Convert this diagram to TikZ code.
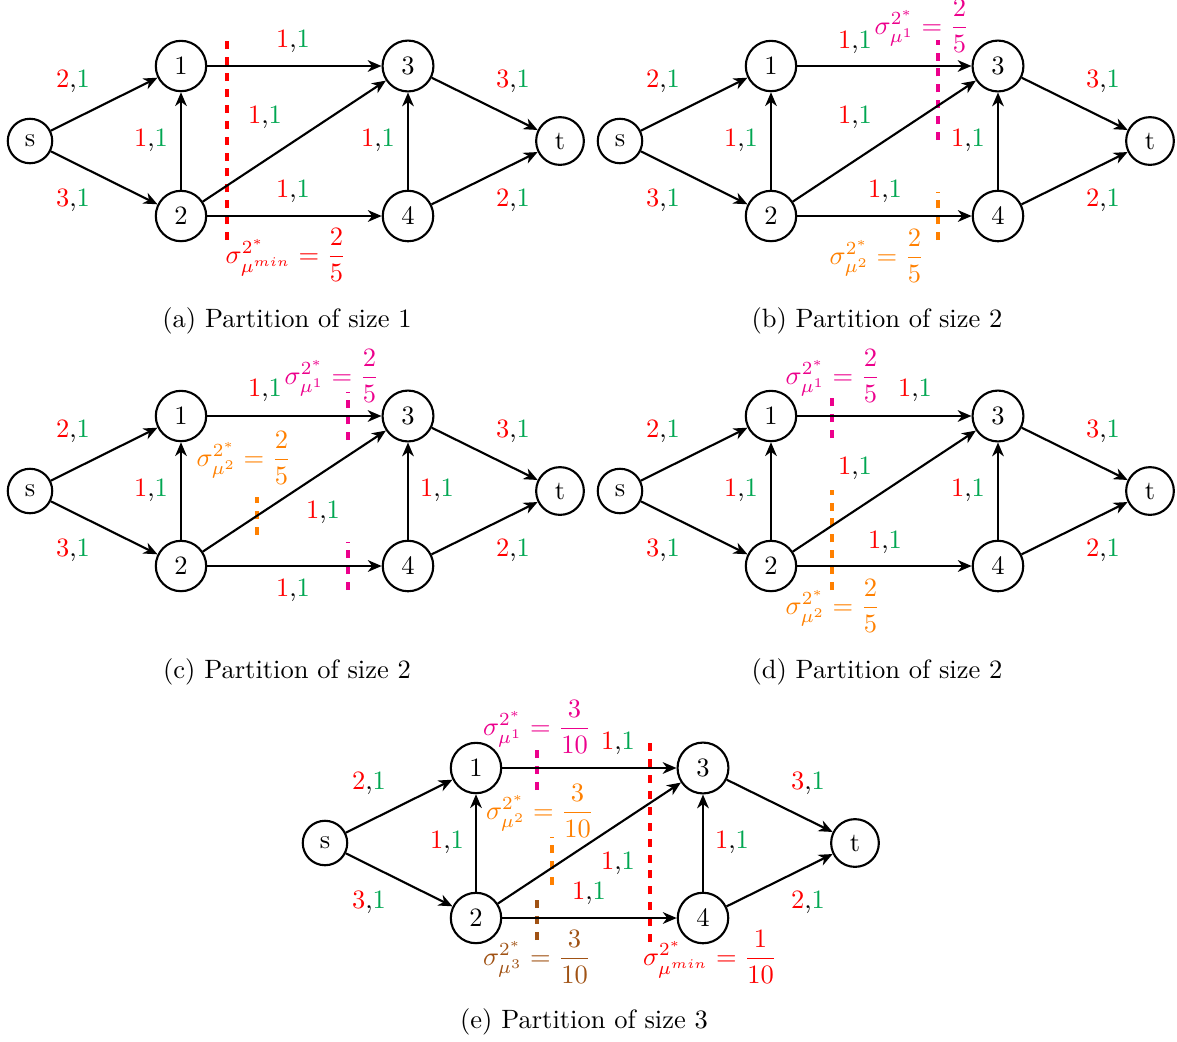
\documentclass[tikz,border=0pt]{standalone}
\usepackage{amsmath}
\usetikzlibrary{arrows.meta}
\definecolor{lred}{RGB}{255,0,0}
\definecolor{lgreen}{RGB}{0,166,81}
\definecolor{lmag}{RGB}{236,0,140}
\definecolor{lorange}{RGB}{255,128,0}
\definecolor{lbrown}{RGB}{160,82,20}
\newcommand{\wlab}[2]{\textcolor{lred}{#1},\textcolor{lgreen}{#2}}
\newcommand{\sigl}[3]{$\sigma^{2^*}_{\mu^{#1}} = \dfrac{#2}{#3}$}
\newcommand{\netw}[1]{%
  \node[vert] (#1s) at (30,141) {s};
  \node[vert] (#11) at (181,66) {1};
  \node[vert] (#12) at (181,216) {2};
  \node[vert] (#13) at (408,66) {3};
  \node[vert] (#14) at (408,216) {4};
  \node[vert] (#1t) at (560,141) {t};
  \draw[arc] (#1s) -- (#11);
  \draw[arc] (#1s) -- (#12);
  \draw[arc] (#12) -- (#11);
  \draw[arc] (#11) -- (#13);
  \draw[arc] (#12) -- (#13);
  \draw[arc] (#12) -- (#14);
  \draw[arc] (#14) -- (#13);
  \draw[arc] (#13) -- (#1t);
  \draw[arc] (#14) -- (#1t);
}
\tikzset{
  vert/.style={circle, draw, line width=0.8pt, inner sep=3.8pt},
  arc/.style={-{Stealth[length=5.2pt,width=4.4pt,inset=1.6pt]}, line width=0.8pt},
  cut/.style={dashed, line width=1.2pt},
  elab/.style={inner sep=0pt},
}
\begin{document}
\begin{tikzpicture}[x=0.3774pt,y=-0.3774pt]
\useasboundingbox (0,0) rectangle (1177,1042);

% (a)
\begin{scope}[shift={(0,0)}]
  \coordinate (a-c1t) at (227,40); \coordinate (a-c1b) at (227,240);
  \draw[cut, lred] (a-c1b) -- (a-c1t);
  \netw{a}
  \node[elab] (a-ls1) at (73,81) {\wlab21};
  \node[elab] (a-ls2) at (73,200) {\wlab31};
  \node[elab] (a-l21) at (151,140) {\wlab11};
  \node[elab] (a-l13) at (293,41) {\wlab11};
  \node[elab] (a-l23) at (265,117) {\wlab11};
  \node[elab] (a-l24) at (293,191) {\wlab11};
  \node[elab] (a-l43) at (378,140) {\wlab11};
  \node[elab] (a-l3t) at (513,81) {\wlab31};
  \node[elab] (a-l4t) at (513,200) {\wlab21};
  \node[text=lred] (a-c1l) at (286,255) {\sigl{min}{2}{5}};
  \node (a-cap) at (287,321) {(a) Partition of size 1};
\end{scope}

% (b)
\begin{scope}[shift={(590,0)}]
  \coordinate (b-c1t) at (348,40); \coordinate (b-c1b) at (348,140);
  \coordinate (b-c2t) at (348,192); \coordinate (b-c2b) at (348,240);
  \draw[cut, lmag] (b-c1b) -- (b-c1t);
  \draw[cut, lorange] (b-c2b) -- (b-c2t);
  \netw{b}
  \node[elab] (b-ls1) at (73,81) {\wlab21};
  \node[elab] (b-ls2) at (73,200) {\wlab31};
  \node[elab] (b-l21) at (151,140) {\wlab11};
  \node[elab] (b-l13) at (265,42) {\wlab11};
  \node[elab] (b-l23) at (265,117) {\wlab11};
  \node[elab] (b-l24) at (295,191) {\wlab11};
  \node[elab] (b-l43) at (378,140) {\wlab11};
  \node[elab] (b-l3t) at (513,81) {\wlab31};
  \node[elab] (b-l4t) at (513,200) {\wlab21};
  \node[text=lmag] (b-c1l) at (332,26) {\sigl{1}{2}{5}};
  \node[text=lorange] (b-c2l) at (287,256) {\sigl{2}{2}{5}};
  \node (b-cap) at (287,321) {(b) Partition of size 2};
\end{scope}

% (c)
\begin{scope}[shift={(0,350)}]
  \coordinate (c-c1t) at (348,42); \coordinate (c-c1b) at (348,90);
  \coordinate (c-c3t) at (348,192); \coordinate (c-c3b) at (348,240);
  \coordinate (c-c2t) at (257,147); \coordinate (c-c2b) at (257,185);
  \draw[cut, lmag] (c-c1b) -- (c-c1t);
  \draw[cut, lmag] (c-c3b) -- (c-c3t);
  \draw[cut, lorange] (c-c2b) -- (c-c2t);
  \netw{c}
  \node[elab] (c-ls1) at (73,81) {\wlab21};
  \node[elab] (c-ls2) at (73,200) {\wlab31};
  \node[elab] (c-l21) at (151,140) {\wlab11};
  \node[elab] (c-l13) at (265,40) {\wlab11};
  \node[elab] (c-l23) at (323,162) {\wlab11};
  \node[elab] (c-l24) at (293,240) {\wlab11};
  \node[elab] (c-l43) at (437,140) {\wlab11};
  \node[elab] (c-l3t) at (513,81) {\wlab31};
  \node[elab] (c-l4t) at (513,200) {\wlab21};
  \node[text=lmag] (c-c1l) at (332,26) {\sigl{1}{2}{5}};
  \node[text=lorange] (c-c2l) at (244,108) {\sigl{2}{2}{5}};
  \node (c-cap) at (287,322) {(c) Partition of size 2};
\end{scope}

% (d)
\begin{scope}[shift={(590,350)}]
  \coordinate (d-c1t) at (242,42); \coordinate (d-c1b) at (242,88);
  \coordinate (d-c2t) at (242,140); \coordinate (d-c2b) at (242,240);
  \draw[cut, lmag] (d-c1b) -- (d-c1t);
  \draw[cut, lorange] (d-c2b) -- (d-c2t);
  \netw{d}
  \node[elab] (d-ls1) at (73,81) {\wlab21};
  \node[elab] (d-ls2) at (73,200) {\wlab31};
  \node[elab] (d-l21) at (151,140) {\wlab11};
  \node[elab] (d-l13) at (325,40) {\wlab11};
  \node[elab] (d-l23) at (265,118) {\wlab11};
  \node[elab] (d-l24) at (295,192) {\wlab11};
  \node[elab] (d-l43) at (378,140) {\wlab11};
  \node[elab] (d-l3t) at (513,81) {\wlab31};
  \node[elab] (d-l4t) at (513,200) {\wlab21};
  \node[text=lmag] (d-c1l) at (243,26) {\sigl{1}{2}{5}};
  \node[text=lorange] (d-c2l) at (243,256) {\sigl{2}{2}{5}};
  \node (d-cap) at (287,322) {(d) Partition of size 2};
\end{scope}

% (e)
\begin{scope}[shift={(295,702)}]
  \coordinate (e-c1t) at (242,41); \coordinate (e-c1b) at (242,88);
  \coordinate (e-c2t) at (257,135); \coordinate (e-c2b) at (257,183);
  \coordinate (e-c3t) at (242,191); \coordinate (e-c3b) at (242,238);
  \coordinate (e-c4t) at (355,40); \coordinate (e-c4b) at (355,240);
  \draw[cut, lmag] (e-c1b) -- (e-c1t);
  \draw[cut, lorange] (e-c2b) -- (e-c2t);
  \draw[cut, lbrown] (e-c3b) -- (e-c3t);
  \draw[cut, lred] (e-c4b) -- (e-c4t);
  \netw{e}
  \node[elab] (e-ls1) at (74,81) {\wlab21};
  \node[elab] (e-ls2) at (74,200) {\wlab31};
  \node[elab] (e-l21) at (152,140) {\wlab11};
  \node[elab] (e-l13) at (323,41) {\wlab11};
  \node[elab] (e-l23) at (323,161) {\wlab11};
  \node[elab] (e-l24) at (294,191) {\wlab11};
  \node[elab] (e-l43) at (437,140) {\wlab11};
  \node[elab] (e-l3t) at (513,81) {\wlab31};
  \node[elab] (e-l4t) at (513,200) {\wlab21};
  \node[text=lmag] (e-c1l) at (242,25) {\sigl{1}{3}{10}};
  \node[text=lorange] (e-c2l) at (245,109) {\sigl{2}{3}{10}};
  \node[text=lbrown] (e-c3l) at (242,255) {\sigl{3}{3}{10}};
  \node[text=lred] (e-c4l) at (415,255) {\sigl{min}{1}{10}};
  \node (e-cap) at (289,320) {(e) Partition of size 3};
\end{scope}
\end{tikzpicture}
\end{document}
